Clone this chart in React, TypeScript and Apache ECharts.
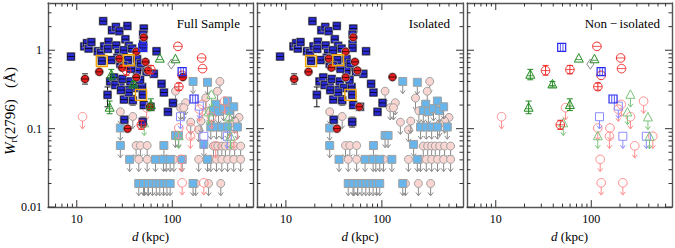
import React, { useEffect, useRef } from "react";
import * as echarts from "echarts";

const FONT = "Liberation Serif";
const X_MIN = 5;
const X_MAX = 700;
const Y_MIN = 0.01;
const Y_MAX = 4;

const xMajor = [10, 100];
const xMinor = [6, 7, 8, 9, 20, 30, 40, 50, 60, 70, 80, 90, 200, 300, 400, 500, 600];
const yMajor = [0.01, 0.1, 1];
const yMinor = [0.02, 0.03, 0.04, 0.05, 0.06, 0.07, 0.08, 0.09, 0.2, 0.3, 0.4, 0.5, 0.6, 0.7, 0.8, 0.9, 2, 3];

const panelTitles = ["Full Sample", "Isolated", "Non\u2009\u2212\u2009isolated"];

// [d (kpc), W (Å), errLo, errHi]
const isoBlueDet = [
  [18.9, 2.35], [23.4, 1.8], [25.7, 1.98], [27.9, 1.75], [33.9, 2.04], [50.3, 1.89], [49.5, 1.59], [32.3, 1.38],
  [12.0, 1.12], [12.8, 1.23], [13.3, 1.05], [14.2, 1.27], [16.6, 0.97], [17.8, 0.93], [19.4, 1.12], [21.5, 1.28],
  [21.2, 1.04], [25.9, 1.15], [27.5, 0.93], [35.0, 1.14], [49.5, 1.2], [49.5, 1.07], [68.4, 0.97], [31.0, 1.0], [38.0, 1.05],
  [8.7, 0.83], [18.3, 0.73], [34.4, 0.75], [42.8, 0.77], [26.6, 0.8], [23.0, 0.75], [28.6, 0.67], [31.0, 0.63],
  [44.6, 0.61], [42.8, 0.55], [64.1, 0.5], [53.7, 0.53], [47.0, 0.68], [37.0, 0.58],
  [22.4, 0.4], [24.5, 0.45], [28.6, 0.38], [25.3, 0.36], [30.0, 0.43], [33.6, 0.31], [36.4, 0.4], [40.0, 0.33],
  [48.3, 0.34], [49.1, 0.27], [46.0, 0.42], [21.0, 0.27, 0.19, 0.34], [31.2, 0.235], [38.6, 0.23, 0.2, 0.265],
  [50.3, 0.2], [59.2, 0.19], [101.6, 0.213, 0.19, 0.235], [90.0, 0.164], [49.1, 0.122, 0.105, 0.14],
  [81.7, 0.289], [77.2, 0.373], [35.0, 0.29], [29.0, 0.31], [31.5, 0.13],
];
const isoRedDet = [
  [50.3, 1.46], [42.0, 0.96], [27.9, 0.78], [29.8, 0.6], [52.4, 0.71], [55.6, 0.55], [17.2, 0.53],
  [12.2, 0.43, 0.37, 0.5], [42.0, 0.45], [129, 0.455], [58.2, 0.19], [34.0, 0.1],
];
const isoHighlight = [[18.3, 0.73], [35.0, 0.745], [47.0, 0.27]];
const isoBlueLim = [
  [165, 0.4], [234, 0.39], [286, 0.205], [379, 0.225], [270, 0.17], [305, 0.165], [345, 0.18], [395, 0.17], [440, 0.19],
  [253, 0.105], [290, 0.105], [330, 0.105], [380, 0.105], [480, 0.105], [108, 0.082], [116, 0.082],
  [214, 0.063], [28.6, 0.061], [81.7, 0.061], [28.6, 0.102],
  [35.8, 0.0406], [66.8, 0.0406], [81, 0.0406], [95, 0.0406], [127, 0.0406], [234, 0.0406],
  [44.6, 0.02], [50, 0.02], [56, 0.02], [62, 0.02], [68, 0.02], [74, 0.02], [81, 0.02], [88, 0.02], [95, 0.02], [165, 0.02],
];
const isoPinkLim = [
  [28.6, 0.164], [38.6, 0.143], [108, 0.3], [138, 0.214], [122, 0.185], [132, 0.185], [156, 0.121], [189, 0.097],
  [315, 0.4], [224, 0.246], [297, 0.3], [243, 0.169], [500, 0.139], [450, 0.125], [400, 0.115], [200, 0.125],
  [41.8, 0.061], [46.4, 0.061], [54.6, 0.061], [270, 0.06], [300, 0.06], [330, 0.06], [360, 0.06], [400, 0.06], [450, 0.06], [520, 0.06],
  [44.6, 0.0406], [54.6, 0.0406], [86.5, 0.0406], [104, 0.0406], [189, 0.0406], [253, 0.0406], [290, 0.0406], [330, 0.0406],
  [380, 0.0406], [440, 0.0406], [520, 0.0406],
  [51.2, 0.02], [55.9, 0.02], [176, 0.02], [240, 0.02], [322, 0.02],
];
const nonRedDet = [
  [114.5, 1.12], [203, 0.797], [207.5, 0.583], [33.2, 0.55, 0.48, 0.64], [59.7, 0.567, 0.5, 0.64],
  [126.8, 0.478], [117.2, 0.343, 0.31, 0.38], [47.4, 0.112, 0.098, 0.128],
];
const nonBlueDet = [[49, 1.09], [126.8, 0.535], [169, 0.239]];
const nonGreenDet = [
  [23, 0.487, 0.42, 0.57], [39.2, 0.366, 0.34, 0.4], [22.1, 0.185, 0.155, 0.225], [59.7, 0.2, 0.17, 0.24],
  [74, 0.782], [108, 0.767],
];
const nonGrayDet = [[97.7, 0.665]];
const nonRedLim = [
  [11.5, 0.142], [53.8, 0.185], [117, 0.102], [157, 0.102], [155, 0.08], [124, 0.0406], [127, 0.0204], [214, 0.0204],
  [206, 0.204], [192, 0.177], [257, 0.142], [353, 0.224], [285, 0.0605], [441, 0.08],
];
const nonBlueLim = [[122, 0.142], [192, 0.194], [214, 0.08], [377, 0.08]];
const nonGreenLim = [[50.9, 0.117], [117, 0.08], [257, 0.27], [239, 0.161], [392, 0.139], [407, 0.079]];

const grids = [
  { left: 48, top: 3, width: 205, height: 209 },
  { left: 257, top: 3, width: 206, height: 209 },
  { left: 467, top: 3, width: 206, height: 209 },
];

function ln(x1: number, y1: number, x2: number, y2: number, c: string, w = 1) {
  return { type: "line", shape: { x1, y1, x2, y2 }, style: { stroke: c, lineWidth: w } };
}
function arrow(cx: number, cy: number, c: string, start: number) {
  return [
    ln(cx, cy + start, cx, cy + 12, c, 1),
    { type: "polyline", shape: { points: [[cx - 2.5, cy + 9], [cx, cy + 12.3], [cx + 2.5, cy + 9]] }, style: { stroke: c, fill: "none", lineWidth: 1 } },
  ];
}
function tri(cx: number, cy: number, c: string) {
  return { type: "polygon", shape: { points: [[cx, cy - 5], [cx - 4.5, cy + 3.5], [cx + 4.5, cy + 3.5]] }, style: { stroke: c, fill: "none", lineWidth: 1 } };
}

function makeRender(kind: string) {
  return (params: any, api: any) => {
    const x = api.value(0);
    const y = api.value(1);
    const p = api.coord([x, y]);
    const cx = p[0];
    const cy = p[1];
    const lo = api.value(2);
    const hi = api.value(3);
    const ch: any[] = [];
    const err = (c: string) => {
      if (lo > 0 && hi > 0) {
        const a = api.coord([x, lo]);
        const b = api.coord([x, hi]);
        ch.push(ln(cx, a[1], cx, b[1], c), ln(cx - 3, a[1], cx + 3, a[1], c), ln(cx - 3, b[1], cx + 3, b[1], c));
      }
    };
    switch (kind) {
      case "bsq":
        err("#111");
        ch.push({ type: "rect", shape: { x: cx - 4.5, y: cy - 4.5, width: 9, height: 9 }, style: { fill: "#a3a3a3" } });
        ch.push({ type: "rect", shape: { x: cx - 3.5, y: cy - 3.5, width: 7, height: 7 }, style: { fill: "#2b2bd6", stroke: "#101030", lineWidth: 0.8 } });
        ch.push(ln(cx - 3.5, cy, cx + 3.5, cy, "#000", 0.8));
        break;
      case "rdot":
        err("#222");
        ch.push({ type: "circle", shape: { cx, cy, r: 4.6 }, style: { fill: "#a3a3a3" } });
        ch.push({ type: "circle", shape: { cx, cy, r: 3.6 }, style: { fill: "#e62020", stroke: "#500000", lineWidth: 0.8 } });
        ch.push(ln(cx - 3.6, cy, cx + 3.6, cy, "#300000", 0.8));
        break;
      case "osq":
        ch.push({ type: "rect", shape: { x: cx - 5.5, y: cy - 5.5, width: 11, height: 11 }, style: { fill: "none", stroke: "#f5a400", lineWidth: 1.4 } });
        break;
      case "lsq":
        ch.push(...arrow(cx, cy, "#8a8a8a", 4));
        ch.push({ type: "rect", shape: { x: cx - 4, y: cy - 4, width: 8, height: 8 }, style: { fill: "#67b5ea", stroke: "#a0a0a0", lineWidth: 1 } });
        break;
      case "pcirc":
        ch.push(...arrow(cx, cy, "#8a8a8a", 4));
        ch.push({ type: "circle", shape: { cx, cy, r: 4 }, style: { fill: "#fad6d2", stroke: "#a0a0a0", lineWidth: 1 } });
        break;
      case "rcirc":
        err("#f03030");
        ch.push({ type: "circle", shape: { cx, cy, r: 4.3 }, style: { fill: "none", stroke: "#f02a2a", lineWidth: 1 } });
        ch.push(ln(cx - 4.3, cy, cx + 4.3, cy, "#f02a2a", 0.8));
        break;
      case "bsqo":
        ch.push({ type: "rect", shape: { x: cx - 4, y: cy - 4, width: 8, height: 8 }, style: { fill: "none", stroke: "#2a2aee", lineWidth: 1.2 } });
        ch.push(ln(cx - 1.3, cy - 4, cx - 1.3, cy + 4, "#2a2aee", 0.8), ln(cx + 1.3, cy - 4, cx + 1.3, cy + 4, "#2a2aee", 0.8));
        break;
      case "tri":
        err("#1f8a1f");
        ch.push(tri(cx, cy, "#1f8a1f"));
        ch.push(ln(cx - 3, cy + 1, cx + 3, cy + 1, "#1f8a1f", 0.8));
        break;
      case "dia":
        ch.push({ type: "polygon", shape: { points: [[cx, cy - 5], [cx + 3.5, cy], [cx, cy + 5], [cx - 3.5, cy]] }, style: { fill: "none", stroke: "#8a8a8a", lineWidth: 1 } });
        break;
      case "lrcirc":
        ch.push(...arrow(cx, cy, "#ff8c8c", 4.3));
        ch.push({ type: "circle", shape: { cx, cy, r: 4.3 }, style: { fill: "none", stroke: "#ff8c8c", lineWidth: 1 } });
        break;
      case "lbsq":
        ch.push(...arrow(cx, cy, "#8c8cff", 4));
        ch.push({ type: "rect", shape: { x: cx - 4, y: cy - 4, width: 8, height: 8 }, style: { fill: "none", stroke: "#8c8cff", lineWidth: 1 } });
        break;
      case "lgtri":
        ch.push(...arrow(cx, cy, "#7cc47c", 3.5));
        ch.push(tri(cx, cy, "#7cc47c"));
        break;
    }
    return { type: "group", children: ch };
  };
}

function tickRender(params: any, api: any) {
  const v0 = api.value(0);
  const v1 = api.value(1);
  const kind = api.value(2);
  const len = api.value(3) ? 7 : 3.5;
  const c = "#333";
  if (kind === 0) {
    const b = api.coord([v0, Y_MIN]);
    const t = api.coord([v0, Y_MAX]);
    return { type: "group", children: [ln(b[0], b[1], b[0], b[1] - len, c), ln(t[0], t[1], t[0], t[1] + len, c)] };
  }
  const l = api.coord([X_MIN, v1]);
  const r = api.coord([X_MAX, v1]);
  return { type: "group", children: [ln(l[0], l[1], l[0] + len, l[1], c), ln(r[0], r[1], r[0] - len, r[1], c)] };
}

const layers = [
  { data: isoPinkLim, kind: "pcirc", iso: true },
  { data: isoBlueLim, kind: "lsq", iso: true },
  { data: nonRedLim, kind: "lrcirc", iso: false },
  { data: nonBlueLim, kind: "lbsq", iso: false },
  { data: nonGreenLim, kind: "lgtri", iso: false },
  { data: isoBlueDet, kind: "bsq", iso: true },
  { data: isoRedDet, kind: "rdot", iso: true },
  { data: nonRedDet, kind: "rcirc", iso: false },
  { data: nonBlueDet, kind: "bsqo", iso: false },
  { data: nonGreenDet, kind: "tri", iso: false },
  { data: nonGrayDet, kind: "dia", iso: false },
  { data: isoHighlight, kind: "osq", iso: true },
];

function decadeLabel(v: number) {
  const l = Math.log10(v);
  const r = Math.round(l);
  if (Math.abs(l - r) > 1e-6) return "";
  return String(Number(Math.pow(10, r).toFixed(Math.max(0, -r))));
}

function buildOption() {
  const lineStyle = { color: "#555", width: 1.4 };
  const xAxis: any[] = [];
  const yAxis: any[] = [];
  const series: any[] = [];
  const tickData: number[][] = [
    ...xMajor.map((v) => [v, Y_MIN, 0, 1]),
    ...xMinor.map((v) => [v, Y_MIN, 0, 0]),
    ...yMajor.map((v) => [X_MIN, v, 1, 1]),
    ...yMinor.map((v) => [X_MIN, v, 1, 0]),
  ];
  grids.forEach((g, i) => {
    xAxis.push({
      type: "log", gridIndex: i, min: X_MIN, max: X_MAX, position: "bottom",
      axisLine: { show: true, onZero: false, lineStyle }, axisTick: { show: false }, splitLine: { show: false },
      axisLabel: { formatter: decadeLabel, interval: 0, fontFamily: FONT, fontSize: 12, color: "#000", margin: 6, showMinLabel: true, showMaxLabel: true },
      name: "{i|d} (kpc)", nameLocation: "middle", nameGap: 18,
      nameTextStyle: { fontFamily: FONT, fontSize: 13, color: "#000", rich: { i: { fontStyle: "italic", fontFamily: FONT, fontSize: 13, color: "#000" } } },
    });
    xAxis.push({
      type: "log", gridIndex: i, min: X_MIN, max: X_MAX, position: "top",
      axisLine: { show: true, onZero: false, lineStyle }, axisTick: { show: false }, splitLine: { show: false }, axisLabel: { show: false },
    });
    yAxis.push({
      type: "log", gridIndex: i, min: Y_MIN, max: Y_MAX, position: "left",
      axisLine: { show: true, onZero: false, lineStyle }, axisTick: { show: false }, splitLine: { show: false },
      axisLabel: { show: i === 0, formatter: decadeLabel, interval: 0, fontFamily: FONT, fontSize: 12, color: "#000", margin: 6 },
    });
    yAxis.push({
      type: "log", gridIndex: i, min: Y_MIN, max: Y_MAX, position: "right",
      axisLine: { show: true, onZero: false, lineStyle }, axisTick: { show: false }, splitLine: { show: false }, axisLabel: { show: false },
    });
    layers.forEach((L) => {
      if (i === 0 || (i === 1 && L.iso) || (i === 2 && !L.iso)) {
        series.push({
          type: "custom", xAxisIndex: 2 * i, yAxisIndex: 2 * i, silent: true, clip: false,
          dimensions: ["x", "y", "lo", "hi"], encode: { x: 0, y: 1 },
          renderItem: makeRender(L.kind), data: L.data,
        });
      }
    });
    series.push({
      type: "custom", xAxisIndex: 2 * i, yAxisIndex: 2 * i, silent: true, clip: false,
      dimensions: ["x", "y", "k", "m"], encode: { x: 0, y: 1 },
      renderItem: tickRender, data: tickData, z: 10,
    });
  });
  const graphic: any[] = panelTitles.map((t, i) => ({
    type: "text", x: grids[i].left + grids[i].width - 13, y: 23,
    style: { text: t, fontFamily: FONT, fontSize: 13, fill: "#000", align: "right", verticalAlign: "middle" },
  }));
  graphic.push({
    type: "text", x: 10, y: 111, rotation: Math.PI / 2,
    style: {
      text: "{i|W}{s|r}{n|(2796)   (\u00c5)}",
      align: "center", verticalAlign: "middle", fill: "#000", fontFamily: FONT,
      rich: {
        i: { fontStyle: "italic", fontFamily: FONT, fontSize: 15, lineHeight: 17 },
        s: { fontFamily: FONT, fontSize: 10, verticalAlign: "bottom", lineHeight: 17 },
        n: { fontFamily: FONT, fontSize: 15, lineHeight: 17 },
      },
    },
  });
  return { animation: false, textStyle: { fontFamily: FONT }, grid: grids, xAxis, yAxis, series, graphic };
}

export default function App() {
  const ref = useRef<HTMLDivElement>(null);
  useEffect(() => {
    document.body.style.margin = "0";
    const chart = echarts.init(ref.current!, null, { renderer: "svg" });
    chart.setOption(buildOption() as any);
    return () => chart.dispose();
  }, []);
  return <div ref={ref} style={{ width: 675, height: 248 }} />;
}
